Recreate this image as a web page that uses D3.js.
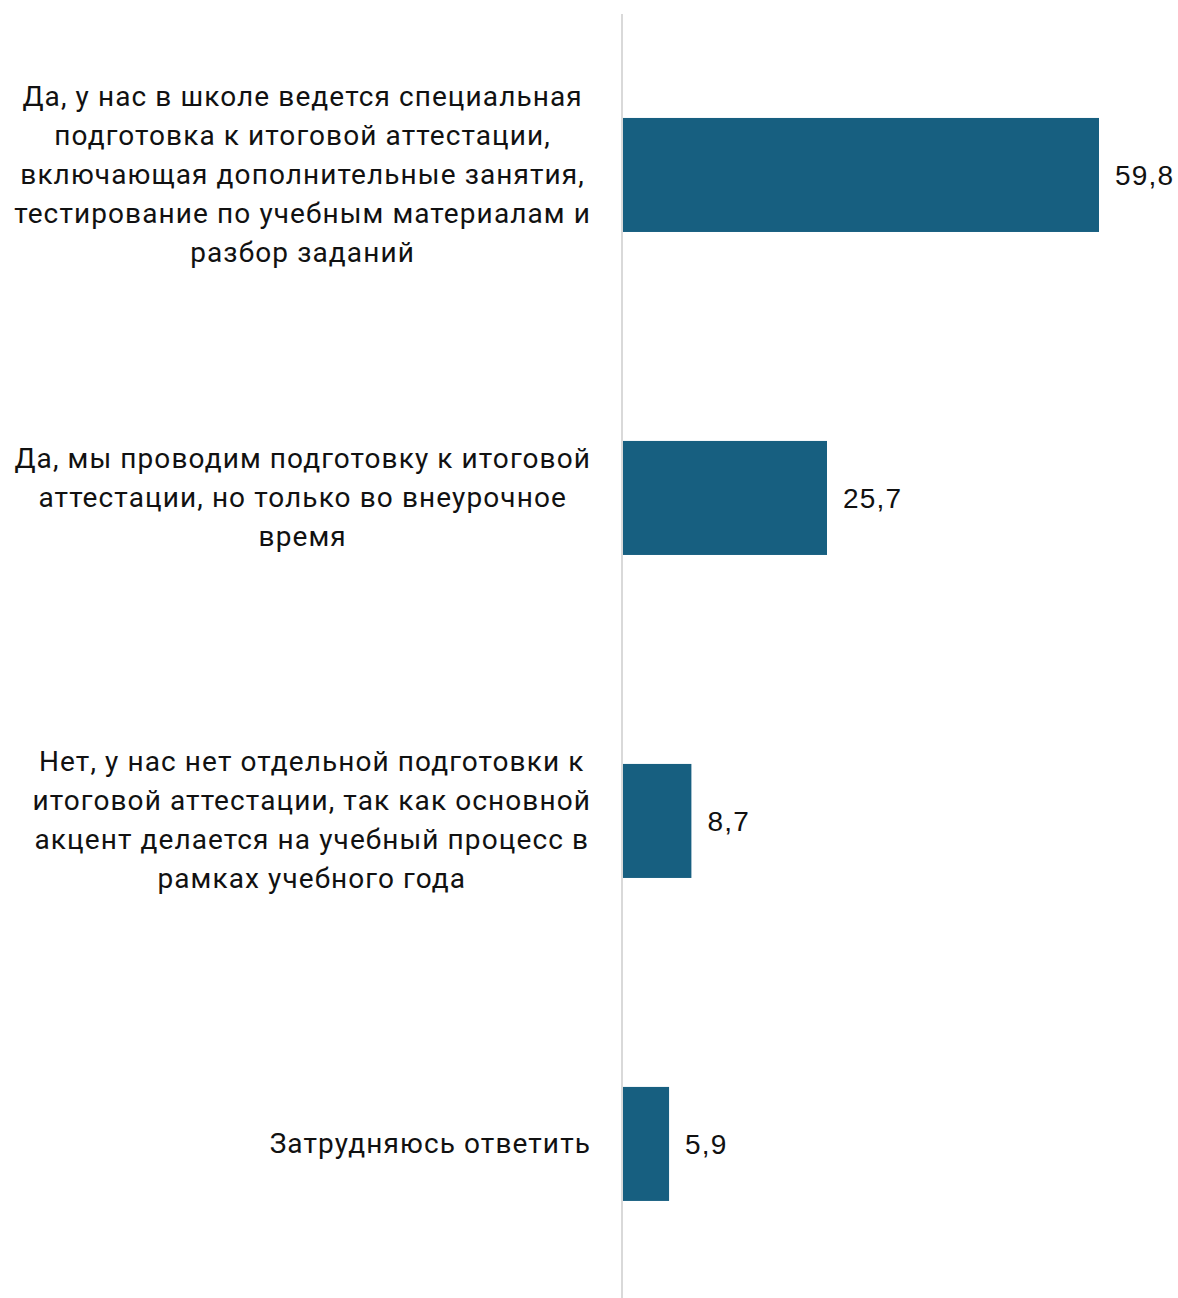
<!DOCTYPE html>
<html>
<head>
<meta charset="utf-8">
<script src="https://cdn.jsdelivr.net/npm/d3@7"></script>
<style>
  html, body { margin: 0; padding: 0; background: #fff; }
  svg { display: block; }
</style>
</head>
<body>
<svg id="chart"></svg>
<script>
// Данные диаграммы
const categories = [
  ['Да, у нас в школе ведется специальная', 'подготовка к итоговой аттестации,', 'включающая дополнительные занятия,', 'тестирование по учебным материалам и', 'разбор заданий'],
  ['Да, мы проводим подготовку к итоговой', 'аттестации, но только во внеурочное', 'время'],
  ['Нет, у нас нет отдельной подготовки к', 'итоговой аттестации, так как основной', 'акцент делается на учебный процесс в', 'рамках учебного года'],
  ['Затрудняюсь ответить']
];
const values = [59.8, 25.7, 8.7, 5.9];
const valueLabels = ['59,8', '25,7', '8,7', '5,9'];

const W = 1178, H = 1298;
const AXIS_X = 622;
const LABEL_RIGHT = 591;
const LINE_H = 39;
const FONT = 'Roboto, "Noto Sans", sans-serif';

const svg = d3.select('#chart').attr('width', W).attr('height', H);

const x = d3.scaleLinear().domain([0, 59.8]).range([AXIS_X, 1099]);
const y = d3.scaleBand()
  .domain(d3.range(categories.length))
  .range([14.6, 1304.3])
  .paddingInner(0.647)
  .paddingOuter(0.32);

// Столбцы
svg.append('g').selectAll('rect')
  .data(values)
  .join('rect')
  .attr('x', x(0))
  .attr('y', (d, i) => y(i))
  .attr('width', d => x(d) - x(0))
  .attr('height', y.bandwidth())
  .attr('fill', '#175f80');

// Вертикальная ось
svg.append('line')
  .attr('x1', AXIS_X).attr('x2', AXIS_X)
  .attr('y1', 14).attr('y2', H)
  .attr('stroke', '#d9d9d9')
  .attr('stroke-width', 2);

// Подписи значений
svg.append('g').selectAll('text')
  .data(values)
  .join('text')
  .attr('x', d => x(d) + 16)
  .attr('y', (d, i) => y(i) + y.bandwidth() / 2)
  .attr('dy', '0.36em')
  .attr('font-family', '"Liberation Sans", Arial, sans-serif')
  .attr('font-size', 28)
  .attr('letter-spacing', 1.2)
  .attr('fill', '#111')
  .text((d, i) => valueLabels[i]);

// Подписи категорий: блок выровнен вправо, строки по центру
const labelG = svg.append('g');
categories.forEach((lines, i) => {
  const cy = y(i) + y.bandwidth() / 2;
  const t = labelG.append('text')
    .attr('font-family', FONT)
    .attr('font-size', 28)
    .attr('letter-spacing', 1.1)
    .attr('fill', '#111')
    .attr('text-anchor', 'middle');
  const spans = lines.map((s, k) => t.append('tspan')
    .attr('y', cy + (k - (lines.length - 1) / 2) * LINE_H)
    .attr('dy', '0.32em')
    .text(s));
  const maxW = d3.max(spans, sp => sp.node().getComputedTextLength());
  spans.forEach(sp => sp.attr('x', LABEL_RIGHT - maxW / 2));
});
</script>
</body>
</html>
